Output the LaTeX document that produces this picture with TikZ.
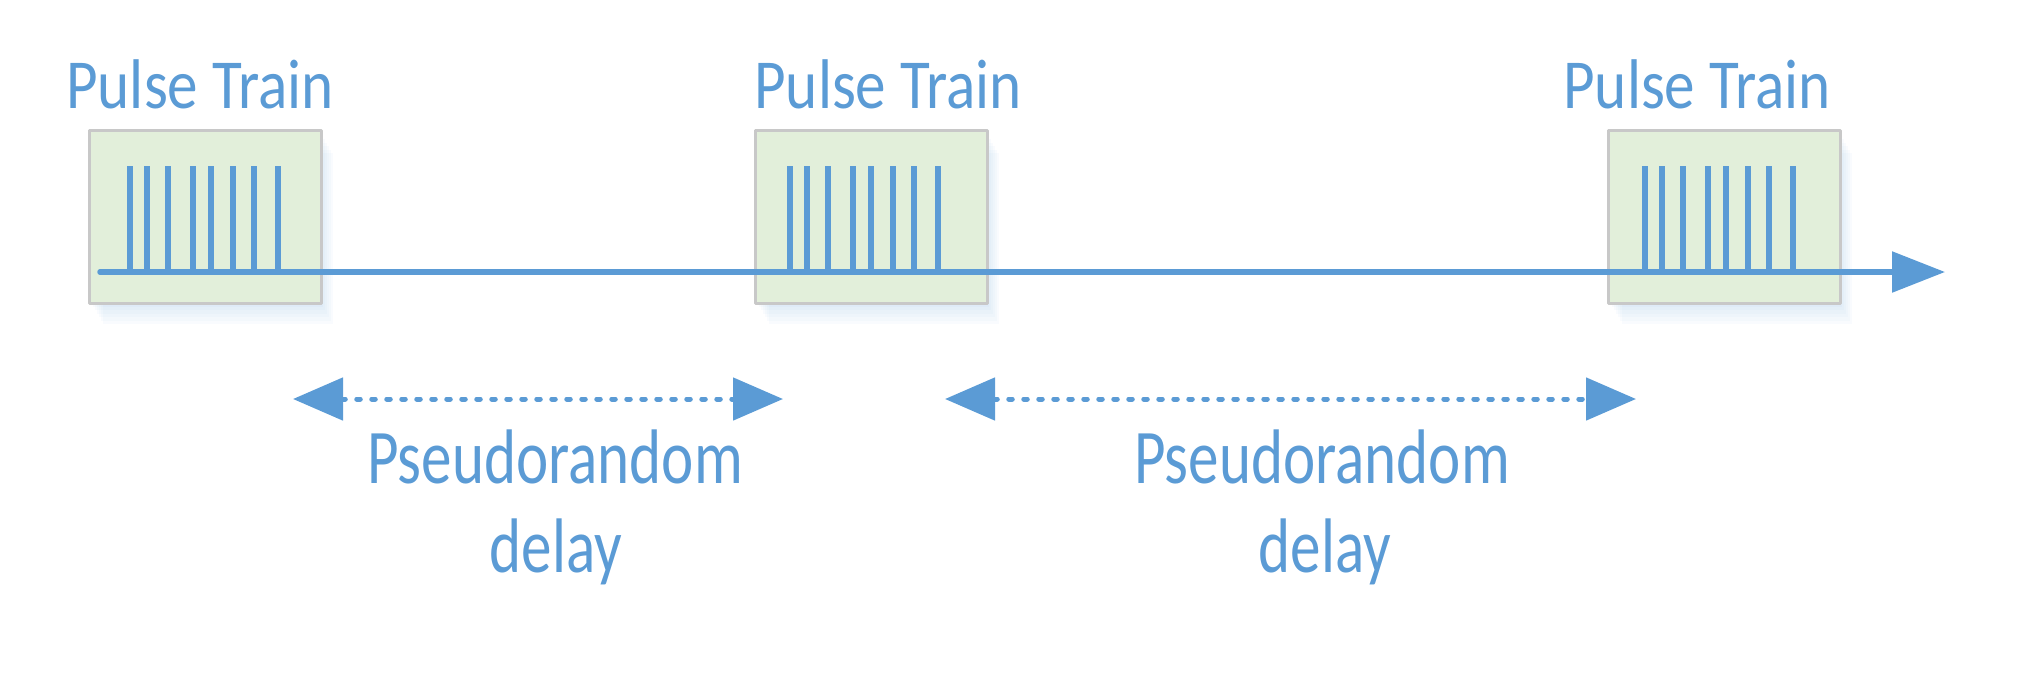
\documentclass[tikz,border=0pt]{standalone}
\usepackage{fontspec}
\setmainfont{Carlito}[FakeStretch=0.87]
\newfontfamily\delayfont{Carlito}[FakeStretch=0.79]
\usetikzlibrary{arrows.meta}

\definecolor{pulseblue}{HTML}{5B9BD5}
\definecolor{boxgreen}{HTML}{E2EFDA}
\definecolor{boxgray}{HTML}{C8C8C8}

\begin{document}
\begin{tikzpicture}[line cap=round,line join=round,
  trainbox/.style={draw=boxgray,line width=0.03cm,fill=boxgreen,
    minimum width=2.32cm,minimum height=1.73cm,inner sep=0pt},
  pulse/.style={draw=pulseblue,line width=0.058cm,line cap=butt},
  traintitle/.style={text=pulseblue,font=\fontsize{20}{24}\selectfont,
    anchor=base,inner sep=0pt},
  delaylabel/.style={text=pulseblue,font=\delayfont\fontsize{22}{26}\selectfont,
    anchor=base,inner sep=0pt},
  delayarrow/.style={draw=pulseblue,line width=0.05cm,
    dash pattern=on 0.035cm off 0.115cm,
    {Triangle[length=0.5cm,width=0.42cm]}-{Triangle[length=0.5cm,width=0.42cm]}}]
  \useasboundingbox (0,0) rectangle (20.42,6.92);

  % shadows under the boxes
  \foreach \cx in {2.05,8.71,17.24} {
    \foreach \k in {1,...,6} {
      \fill[pulseblue,opacity=0.035] (\cx-1.14+0.02*\k,3.89-0.035*\k) rectangle (\cx+1.16+0.02*\k,5.60-0.035*\k);
    }
  }

  \node[trainbox] (box1) at (2.05,4.755) {};
  \node[trainbox] (box2) at (8.71,4.755) {};
  \node[trainbox] (box3) at (17.24,4.755) {};

  % time axis
  \coordinate (t0) at (1.00,4.20);
  \coordinate (t1) at (19.45,4.20);
  \draw[pulseblue,line width=0.055cm,-{Triangle[length=0.53cm,width=0.40cm]}] (t0) -- (t1);

  % pulses
  \foreach \x in {1.30,7.90,16.45} {
    \foreach \d in {0,0.17,0.38,0.63,0.81,1.03,1.24,1.48} {
      \draw[pulse] (\x+\d,4.20) -- (\x+\d,5.26);
    }
  }

  \node[traintitle] (title1) at (2.00,5.84) {Pulse Train};
  \node[traintitle] (title2) at (8.88,5.84) {Pulse Train};
  \node[traintitle] (title3) at (16.97,5.84) {Pulse Train};

  % delays
  \coordinate (d1a) at (2.93,2.93);
  \coordinate (d1b) at (7.83,2.93);
  \coordinate (d2a) at (9.45,2.93);
  \coordinate (d2b) at (16.36,2.93);
  \draw[delayarrow] (d1a) -- (d1b);
  \draw[delayarrow] (d2a) -- (d2b);

  \node[delaylabel] (delay1) at (5.55,2.09) {Pseudorandom};
  \node[delaylabel] (delay1b) at (5.56,1.20) {delay};
  \node[delaylabel] (delay2) at (13.22,2.09) {Pseudorandom};
  \node[delaylabel] (delay2b) at (13.25,1.20) {delay};
\end{tikzpicture}
\end{document}
